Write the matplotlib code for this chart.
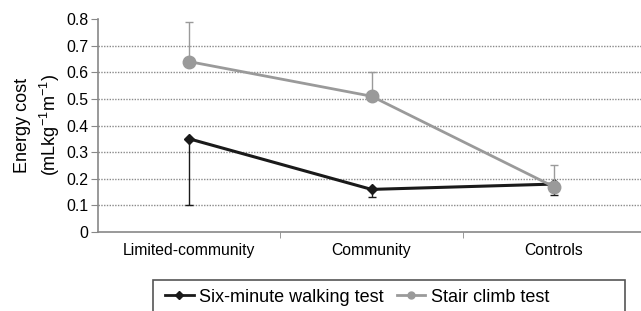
import matplotlib
matplotlib.use("Agg")
import matplotlib.pyplot as plt
import matplotlib.patches as mpatches
from matplotlib.lines import Line2D

plt.rcParams['font.family'] = ['Liberation Sans', 'DejaVu Sans']
plt.rcParams['mathtext.fontset'] = 'custom'
plt.rcParams['mathtext.rm'] = 'Liberation Sans'

groups = ["Limited-community", "Community", "Controls"]

walk_mean = [0.35, 0.16, 0.18]
walk_err_low = [0.25, 0.03, 0.04]

stair_mean = [0.64, 0.51, 0.17]
stair_err_high = [0.15, 0.09, 0.08]

yticks = [0, 0.1, 0.2, 0.3, 0.4, 0.5, 0.6, 0.7, 0.8]
ytick_labels = ["0", "0.1", "0.2", "0.3", "0.4", "0.5", "0.6", "0.7", "0.8"]

black = "#1a1a1a"
gray = "#9a9a9a"

fig = plt.figure(figsize=(6.41, 3.11), dpi=100)
ax = fig.add_axes([98 / 641, 1 - 232 / 311, 547 / 641, 213 / 311])

x = list(range(len(groups)))
ax.errorbar(x, walk_mean, yerr=[walk_err_low, [0] * 3], color=black,
            lw=2.2, marker="D", ms=5, ecolor=black, elinewidth=1,
            capsize=3, capthick=1, zorder=3)
ax.errorbar(x, stair_mean, yerr=[[0] * 3, stair_err_high], color=gray,
            lw=2, marker="o", ms=9, ecolor=gray, elinewidth=1,
            capsize=3, capthick=1, zorder=4)

ax.set_xlim(-0.5, 2.5)
ax.set_ylim(0, 0.8)
ax.set_yticks(yticks)
ax.set_yticklabels(ytick_labels, fontsize=11.4)
ax.set_xticks(x)
ax.set_xticklabels(groups, fontsize=11.3)
ax.set_xticks([0.5, 1.5], minor=True)
ax.tick_params(axis="x", which="major", length=0, pad=8)
ax.tick_params(axis="x", which="minor", length=4, color="#888888")
ax.tick_params(axis="y", length=5, color="#888888", pad=2)

ax.yaxis.grid(True, color="#8a8a8a", ls=(0, (1, 1)), lw=1)
ax.yaxis.get_gridlines()[-1].set_visible(False)
ax.yaxis.get_gridlines()[0].set_visible(False)
ax.set_axisbelow(True)

for s in ["top", "right"]:
    ax.spines[s].set_visible(False)
for s in ["left", "bottom"]:
    ax.spines[s].set_color("#888888")
    ax.spines[s].set_linewidth(1.2)

ax.set_ylabel("Energy cost\n(mLkg$^{-1}$m$^{-1}$)", fontsize=13,
              linespacing=1.4, labelpad=3)

# legend frame box (partly cut off at the bottom)
fig.patches.append(mpatches.Rectangle((153 / 641, -0.05), 472 / 641,
                                      1 - 280 / 311 + 0.05,
                                      transform=fig.transFigure,
                                      fill=False, ec="#555555", lw=1.2))
handles = [Line2D([], [], color=black, lw=2, marker="D", ms=4),
           Line2D([], [], color=gray, lw=2, marker="o", ms=5)]
labels = ["Six-minute walking test", "Stair climb test"]
fig.legend(handles, labels, loc="center left", ncol=2,
           bbox_to_anchor=(165 / 641, 1 - 297 / 311), frameon=False,
           fontsize=13, handlelength=1.6, handletextpad=0.3,
           columnspacing=0.7, borderpad=0, borderaxespad=0)

fig.savefig("out.png", dpi=100)
